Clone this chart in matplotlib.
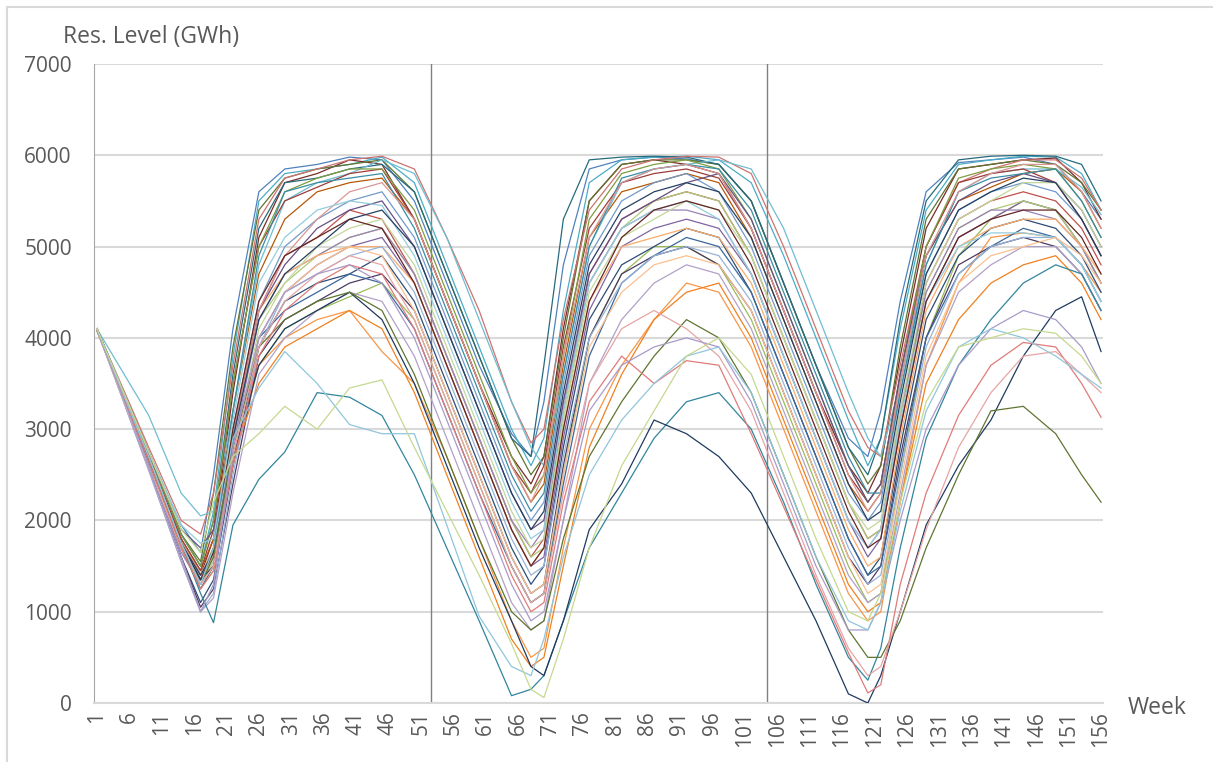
import numpy as np
import matplotlib
matplotlib.use('Agg')
import matplotlib.pyplot as plt
from matplotlib.patches import Rectangle

plt.rcParams['font.family'] = ['Open Sans', 'DejaVu Sans']

# semanes on es llegeixen els valors (nivell embassament, GWh)
weeks = [1, 9, 14, 17, 19, 22, 26, 30, 35, 40, 45, 50, 55, 60,
         65, 68, 70, 73, 77, 82, 87, 92, 97, 102, 107, 112, 117,
         120, 122, 125, 129, 134, 139, 144, 149, 153, 156]
tick_weeks = list(range(1, 157, 5))
year_marks = [52.5, 104.5]

# series altes
h1 = [4100, 2750, 1950, 1650, 2500, 4100, 5600, 5850, 5900, 5980, 5950, 5500, 4600, 3700,
      2950, 2700, 3300, 4800, 5850, 5950, 5980, 5960, 5900, 5500, 4600, 3700, 2900,
      2700, 3200, 4400, 5600, 5920, 5950, 5980, 5900, 5600, 5300]
h2 = [4100, 2700, 1850, 1500, 2100, 3800, 5500, 5800, 5850, 5900, 5980, 5700, 4800, 3900,
      3000, 2600, 2900, 4300, 5700, 5950, 5980, 5990, 5950, 5700, 4900, 4000, 3100,
      2600, 2900, 4100, 5400, 5900, 5950, 5990, 5980, 5800, 5400]
h3 = [4100, 2650, 1800, 1400, 1800, 3400, 5100, 5700, 5800, 5950, 5900, 5300, 4400, 3500,
      2700, 2400, 2700, 4100, 5500, 5900, 5950, 5900, 5800, 5200, 4300, 3400, 2600,
      2300, 2600, 3800, 5200, 5850, 5900, 5950, 5970, 5700, 5300]
h4 = [4080, 2700, 1850, 1500, 2000, 3600, 5200, 5700, 5750, 5850, 5900, 5600, 4700, 3800,
      2900, 2700, 3700, 5300, 5950, 5980, 5990, 5980, 5900, 5500, 4600, 3700, 2800,
      2500, 2900, 4200, 5500, 5950, 5990, 6000, 5990, 5900, 5500]
h5 = [4100, 2800, 2000, 1850, 2300, 3700, 5300, 5750, 5850, 5950, 5990, 5850, 5100, 4300,
      3300, 2850, 3000, 4200, 5400, 5850, 5950, 5990, 5980, 5800, 5000, 4100, 3200,
      2800, 2700, 3700, 5000, 5700, 5850, 5950, 5950, 5750, 5400]
h6 = [4100, 3150, 2300, 2050, 2100, 3200, 4800, 5500, 5700, 5800, 5950, 5800, 5100, 4200,
      3300, 2800, 2600, 3600, 5000, 5700, 5850, 5900, 5950, 5850, 5200, 4300, 3400,
      2900, 2700, 3500, 4800, 5600, 5800, 5850, 5850, 5650, 5350]
h7 = [4090, 2700, 1800, 1450, 1900, 3500, 5000, 5500, 5650, 5800, 5850, 5300, 4400, 3500,
      2600, 2300, 2600, 3900, 5200, 5700, 5800, 5850, 5750, 5200, 4300, 3400, 2500,
      2200, 2400, 3600, 5000, 5700, 5800, 5850, 5700, 5300, 4900]
h8 = [4100, 2650, 1750, 1350, 1700, 3200, 4900, 5600, 5700, 5750, 5800, 5200, 4300, 3400,
      2500, 2100, 2300, 3600, 5000, 5750, 5850, 5900, 5850, 5400, 4500, 3600, 2700,
      2300, 2300, 3400, 4800, 5600, 5750, 5800, 5850, 5500, 5100]

# series mitjanes
m1 = [4080, 2650, 1750, 1350, 1600, 2900, 4300, 4900, 5100, 5400, 5300, 4700, 3800, 2900,
      2000, 1600, 1800, 3200, 4700, 5300, 5500, 5600, 5500, 4900, 4000, 3100, 2200,
      1800, 1900, 3100, 4600, 5300, 5500, 5600, 5500, 5200, 4800]
m2 = [4100, 2600, 1700, 1300, 1500, 2700, 4000, 4500, 4800, 5000, 5100, 4600, 3700, 2800,
      1900, 1500, 1600, 2900, 4300, 5000, 5200, 5300, 5200, 4700, 3800, 2900, 2000,
      1600, 1800, 3000, 4400, 5100, 5300, 5500, 5400, 5000, 4600]
m3 = [4090, 2600, 1600, 1100, 1350, 2600, 3900, 4400, 4600, 4700, 4900, 4400, 3500, 2600,
      1700, 1300, 1500, 2800, 4200, 4800, 5000, 5200, 5100, 4500, 3600, 2700, 1800,
      1400, 1600, 2800, 4200, 4900, 5200, 5300, 5200, 4900, 4500]
m4 = [4100, 2600, 1600, 1050, 1250, 2400, 3800, 4200, 4400, 4600, 4700, 4300, 3400, 2500,
      1600, 1200, 1300, 2600, 4000, 4700, 4900, 5000, 4800, 4300, 3400, 2500, 1600,
      1300, 1500, 2700, 4000, 4800, 5000, 5100, 5000, 4700, 4300]
m5 = [4100, 2700, 1800, 1400, 1700, 3000, 4400, 5000, 5300, 5500, 5600, 5100, 4200, 3300,
      2400, 2000, 2200, 3500, 4900, 5500, 5700, 5800, 5600, 5000, 4100, 3200, 2300,
      2000, 2200, 3400, 4700, 5400, 5600, 5700, 5600, 5300, 4900]
m6 = [4080, 2600, 1650, 1300, 1550, 2800, 4200, 4700, 4900, 5100, 5200, 4700, 3800, 2900,
      2000, 1700, 1900, 3300, 4600, 5200, 5400, 5400, 5300, 4700, 3800, 2900, 2000,
      1700, 1900, 3200, 4500, 5200, 5400, 5400, 5300, 5000, 4600]
m7 = [4100, 2650, 1700, 1250, 1500, 2800, 4000, 4300, 4500, 4700, 4600, 4100, 3200, 2300,
      1500, 1100, 1200, 2400, 3800, 4600, 4900, 5100, 5000, 4500, 3600, 2700, 1800,
      1400, 1500, 2600, 4000, 4700, 5000, 5200, 5100, 4800, 4400]
m8 = [4100, 2750, 1900, 1700, 1900, 2900, 4300, 4800, 5200, 5400, 5500, 5000, 4100, 3200,
      2300, 1900, 2000, 3300, 4700, 5300, 5500, 5700, 5800, 5300, 4400, 3500, 2600,
      2200, 2400, 3600, 4900, 5500, 5700, 5800, 5700, 5400, 5000]
m9 = [4090, 2550, 1550, 1000, 1200, 2500, 3900, 4500, 4700, 4900, 5000, 4500, 3600, 2700,
      1800, 1400, 1500, 2700, 4000, 4600, 4900, 5000, 4900, 4400, 3500, 2600, 1700,
      1300, 1400, 2500, 3900, 4700, 5000, 5100, 5100, 4800, 4400]
m10 = [4100, 2650, 1700, 1300, 1550, 2700, 4100, 4600, 5000, 5200, 5300, 4800, 3900, 3000,
       2100, 1700, 1800, 3100, 4500, 5100, 5300, 5500, 5400, 4900, 4000, 3100, 2200,
       1900, 2000, 3200, 4600, 5300, 5500, 5700, 5700, 5400, 5000]
m11 = [4100, 2750, 1950, 1750, 1800, 3100, 4600, 5100, 5400, 5500, 5450, 4900, 4000, 3100,
       2200, 1800, 1900, 3200, 4600, 5200, 5400, 5500, 5300, 4700, 3800, 2900, 2000,
       1700, 1900, 3100, 4400, 5000, 5150, 5150, 5100, 4800, 4400]
m12 = [4080, 2600, 1700, 1300, 1500, 2700, 4000, 4500, 4800, 5000, 4900, 4300, 3400, 2500,
       1600, 1200, 1300, 2500, 3900, 4500, 4800, 4900, 4800, 4300, 3400, 2500, 1600,
       1200, 1300, 2400, 3800, 4600, 4900, 5000, 5100, 4900, 4600]
m13 = [4100, 2650, 1750, 1400, 1650, 2900, 4200, 4700, 5000, 5300, 5400, 5000, 4100, 3200,
       2300, 1900, 2100, 3400, 4800, 5400, 5600, 5700, 5600, 5100, 4200, 3300, 2400,
       2000, 2100, 3300, 4700, 5400, 5600, 5750, 5700, 5300, 4900]
m14 = [4100, 2700, 1750, 1350, 1650, 3000, 4400, 4900, 5100, 5300, 5200, 4600, 3700, 2800,
       1900, 1500, 1700, 3000, 4400, 5100, 5400, 5500, 5400, 4800, 3900, 3000, 2100,
       1700, 1800, 3000, 4400, 5100, 5300, 5400, 5400, 5100, 4700]

# series addicionals
x1 = [4100, 2650, 1700, 1250, 1450, 2600, 3700, 4100, 4300, 4450, 4600, 4200, 3300, 2400,
      1500, 1100, 1200, 2500, 4000, 4700, 5000, 5000, 4800, 4200, 3300, 2400, 1500,
      1100, 1200, 2500, 4000, 4900, 5300, 5500, 5400, 5000, 4600]
x2 = [4100, 2700, 1750, 1350, 1700, 2900, 3700, 4000, 4200, 4300, 3850, 3500, 2700, 1800,
      900, 500, 600, 1700, 3000, 3700, 4200, 4600, 4500, 3900, 3000, 2100, 1200,
      900, 1000, 2200, 3700, 4600, 5100, 5150, 5100, 4800, 4500]
x3 = [4100, 2750, 1850, 1550, 2300, 3900, 5400, 5750, 5850, 5900, 5950, 5600, 4700, 3800,
      2900, 2500, 2700, 4000, 5500, 5900, 5950, 5950, 5900, 5500, 4600, 3700, 2800,
      2400, 2600, 3900, 5300, 5850, 5900, 5950, 5900, 5700, 5400]
x4 = [4080, 2700, 1800, 1450, 1800, 3200, 4700, 5300, 5600, 5700, 5750, 5300, 4400, 3500,
      2600, 2200, 2400, 3700, 5100, 5600, 5700, 5800, 5700, 5100, 4200, 3300, 2400,
      2100, 2300, 3500, 4900, 5500, 5650, 5800, 5850, 5600, 5200]
x5 = [4100, 2650, 1750, 1350, 1600, 2900, 4200, 4600, 4900, 5100, 5200, 4700, 3800, 2900,
      2000, 1600, 1700, 3100, 4600, 5200, 5500, 5600, 5500, 4900, 4000, 3100, 2200,
      1800, 1900, 3100, 4500, 5200, 5400, 5500, 5400, 5000, 4600]
x6 = [4100, 2700, 1800, 1400, 1700, 3000, 4300, 4700, 4900, 5000, 5000, 4600, 3700, 2800,
      1900, 1500, 1700, 3000, 4400, 5000, 5100, 5200, 5100, 4600, 3700, 2800, 1900,
      1500, 1600, 2900, 4300, 5000, 5200, 5300, 5300, 5000, 4700]
x7 = [4100, 2750, 1850, 1500, 2000, 3500, 5000, 5600, 5750, 5850, 5850, 5400, 4500, 3600,
      2700, 2300, 2500, 3800, 5300, 5800, 5900, 5950, 5850, 5300, 4400, 3500, 2600,
      2200, 2400, 3600, 5000, 5750, 5850, 5900, 5850, 5500, 5100]
x8 = [4100, 2650, 1700, 1300, 1500, 2700, 3500, 3900, 4100, 4300, 4100, 3400, 2500, 1600,
      700, 400, 500, 1500, 2800, 3600, 4200, 4500, 4600, 4000, 3100, 2200, 1300,
      1000, 1100, 2200, 3500, 4200, 4600, 4800, 4900, 4600, 4200]
x9 = [4090, 2650, 1750, 1350, 1650, 2900, 4300, 4900, 5300, 5600, 5700, 5300, 4400, 3500,
      2600, 2200, 2500, 3800, 5100, 5700, 5850, 5900, 5800, 5200, 4300, 3400, 2500,
      2100, 2300, 3500, 4900, 5600, 5800, 5900, 5900, 5600, 5200]
x10 = [4100, 2550, 1550, 1000, 1150, 2300, 3600, 4000, 4300, 4500, 4400, 3800, 2900, 2000,
       1100, 800, 900, 2000, 3500, 4200, 4600, 4800, 4700, 4100, 3200, 2300, 1400,
       1100, 1200, 2300, 3700, 4500, 4800, 5000, 5000, 4700, 4300]

# series baixes
l1 = [4100, 2650, 1750, 1200, 880, 1950, 2450, 2750, 3400, 3350, 3150, 2500, 1700, 900,
      80, 150, 300, 900, 1700, 2300, 2900, 3300, 3400, 3000, 2200, 1300, 500,
      250, 600, 1700, 2900, 3700, 4200, 4600, 4800, 4700, 4300]
l2 = [4100, 2700, 1750, 1350, 1500, 2700, 3700, 4100, 4300, 4500, 4200, 3500, 2600, 1700,
      900, 400, 300, 900, 1900, 2400, 3100, 2950, 2700, 2300, 1600, 900, 100,
      0, 300, 1000, 1950, 2600, 3100, 3800, 4300, 4450, 3850]
l3 = [4100, 2700, 1750, 1300, 1600, 2800, 3900, 4200, 4400, 4500, 4300, 3600, 2700, 1800,
      1000, 800, 900, 1800, 2700, 3300, 3800, 4200, 4000, 3400, 2500, 1600, 800,
      500, 500, 900, 1700, 2500, 3200, 3250, 2950, 2500, 2200]
l4 = [4100, 2650, 1700, 1250, 1450, 2600, 3800, 4300, 4600, 4800, 4700, 4100, 3200, 2300,
      1400, 1000, 1100, 2200, 3300, 3800, 3500, 3750, 3700, 2950, 2150, 1350, 550,
      110, 200, 1300, 2300, 3150, 3700, 3950, 3900, 3500, 3130]
l5 = [4100, 2700, 1750, 1300, 1500, 2700, 3900, 4400, 4700, 4900, 4800, 4200, 3300, 2400,
      1500, 1100, 1200, 2300, 3500, 4100, 4300, 4100, 3800, 3200, 2300, 1400, 600,
      300, 400, 1000, 1900, 2800, 3400, 3800, 3850, 3600, 3400]
l6 = [4090, 2600, 1600, 1000, 1300, 2800, 4000, 4500, 4700, 4800, 4600, 4000, 3100, 2200,
      1300, 900, 1000, 2000, 3200, 3700, 3900, 4000, 3900, 3300, 2400, 1500, 800,
      800, 1100, 2000, 3000, 3700, 4100, 4300, 4200, 3900, 3500]
l7 = [4100, 2700, 1750, 1300, 1700, 2900, 3450, 3850, 3500, 3050, 2950, 2950, 1950, 950,
      400, 300, 700, 1600, 2500, 3100, 3500, 3800, 3900, 3400, 2500, 1600, 900,
      800, 1100, 2100, 3200, 3900, 4100, 4000, 3800, 3600, 3450]
l8 = [4100, 2750, 1900, 1650, 2200, 2700, 2950, 3250, 3000, 3450, 3540, 2800, 2100, 1400,
      650, 150, 60, 700, 1700, 2600, 3200, 3800, 4000, 3600, 2700, 1800, 1000,
      900, 1200, 2200, 3300, 3900, 4000, 4100, 4050, 3800, 3500]

runs = [h1, m1, x1, m2, h2, x2, m3, h3, x3, m4, h4, x4, m5, h5, x5, m6,
        h6, x6, m7, h7, x7, m8, h8, x8, m9, x9, m10, x10, m11, m12, m13, m14,
        l1, l2, l3, l4, l5, l6, l7, l8]

colors = ['#4F81BD', '#C0504D', '#9BBB59', '#8064A2', '#4BACC6', '#F79646',
          '#2C4D75', '#772C2A', '#5F7530', '#4D3B62', '#276A7C', '#B65708',
          '#729ACA', '#CD7371', '#AFC97A', '#9983B5', '#6FBDD1', '#F9AB6B',
          '#3A679C', '#9F3B38', '#7E9D40', '#664F83', '#3A8DA3', '#F0801F',
          '#95B3D7', '#D99694', '#C3D69B', '#B2A1C7', '#93CDDD', '#FAC090',
          '#254061', '#632523',
          '#31859C', '#1F3A5F', '#5F7530', '#E07B7A', '#E6A5A4', '#A99BC9',
          '#8FC6DC', '#C5D98F']

W, H = 1213, 762
fig = plt.figure(figsize=(W / 100, H / 100), dpi=100)
ax = fig.add_axes([94 / W, 1 - 703 / H, (1103 - 94) / W, (703 - 64) / H])

for i, r in enumerate(runs):
    ax.plot(weeks, r, color=colors[i % len(colors)], lw=0.9, zorder=3)

for xv in year_marks:
    ax.axvline(xv, color='#808080', lw=1.0, zorder=2)

ax.set_xlim(0.55, 156.3)
ax.set_ylim(0, 7000)
ax.set_yticks(np.arange(0, 7001, 1000))
ax.set_xticks(tick_weeks)
ax.set_xticklabels([str(t) for t in tick_weeks], rotation=90)
ax.yaxis.grid(True, color='#d9d9d9', lw=1.5, zorder=0)
ax.set_axisbelow(True)
ax.tick_params(axis='both', length=0, labelsize=15, colors='#595959')
ax.tick_params(axis='y', pad=16)
ax.tick_params(axis='x', pad=6)

for s in ['top', 'right']:
    ax.spines[s].set_visible(False)
ax.spines['left'].set_color('#a6a6a6')
ax.spines['bottom'].set_color('#d9d9d9')
ax.spines['bottom'].set_linewidth(1.5)

fig.text(63 / W, 1 - 37 / H, 'Res. Level (GWh)', ha='left', va='center',
         fontsize=16.5, color='#595959')
fig.text(1128 / W, 1 - 708 / H, 'Week', ha='left', va='center',
         fontsize=16.5, color='#595959')

fig.add_artist(Rectangle((7 / W, -0.1), 1.2, 1 - 7 / H + 0.1, transform=fig.transFigure,
                         fill=False, ec='#d9d9d9', lw=1.5))

fig.savefig('out.png', dpi=100)
